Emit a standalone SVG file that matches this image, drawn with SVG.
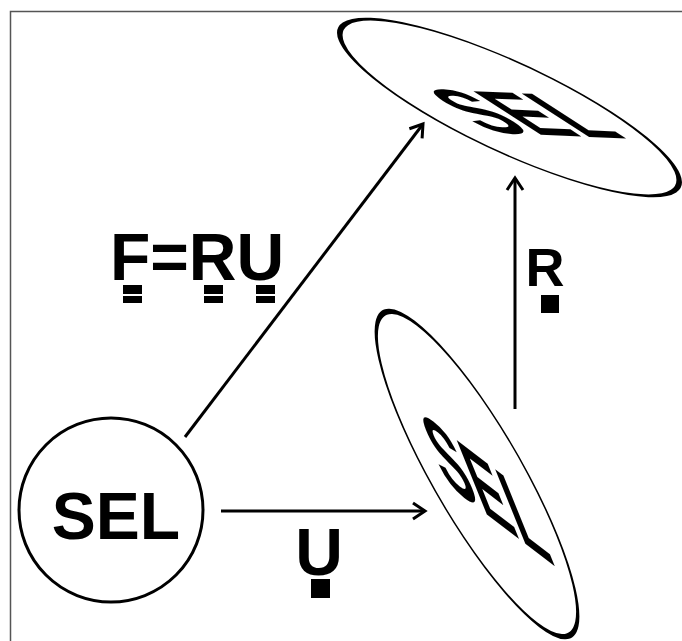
<svg xmlns="http://www.w3.org/2000/svg" width="682" height="641" viewBox="0 0 682 641">
<style>
.frame{fill:none;stroke:#555;stroke-width:1.5}
.node circle{fill:#fff;stroke:#000;stroke-width:3}
.node text,.lbl{font-family:"Liberation Sans",Arial,sans-serif;font-weight:bold;fill:#000}
.node text{font-size:66px;text-anchor:middle}
.edge{fill:none;stroke:#000;stroke-width:3}
.box{fill:#000}
</style>
<defs>
<marker id="ah" markerUnits="userSpaceOnUse" markerWidth="30" markerHeight="30" refX="0" refY="0" orient="auto" overflow="visible">
<path d="M-12,-8 L0,0 L-12,8" fill="none" stroke="#000" stroke-width="3"/>
</marker>
</defs>
<rect class="frame" x="10.5" y="11.5" width="700" height="700"/>
<g id="connectors">
<line class="edge" x1="221" y1="511" x2="425" y2="511" marker-end="url(#ah)"/>
<line class="edge" x1="515" y1="409" x2="515" y2="178" marker-end="url(#ah)"/>
<line class="edge" x1="185" y1="437" x2="423" y2="124" marker-end="url(#ah)"/>
</g>
<g id="node-circle" class="node" transform="translate(111 510)">
<circle cx="0" cy="0" r="92"/>
<text x="5" y="29">SEL</text>
</g>
<g id="node-U" class="node" transform="matrix(0.8695 0.6654 0.6654 1.6378 477 474)">
<circle cx="0" cy="0" r="92"/>
<text x="5" y="29">SEL</text>
</g>
<g id="node-F" class="node" transform="matrix(1.094 0.046 1.485 0.959 509.5 107.5)">
<circle cx="0" cy="0" r="92"/>
<text x="5" y="29">SEL</text>
</g>
<g id="label-F">
<text class="lbl" x="110" y="280" font-size="66">F=RU</text>
<rect class="box" x="123" y="285" width="19" height="9"/>
<rect class="box" x="123" y="296" width="19" height="7"/>
<rect class="box" x="204" y="285" width="19" height="9"/>
<rect class="box" x="204" y="296" width="19" height="7"/>
<rect class="box" x="256" y="285" width="19" height="9"/>
<rect class="box" x="256" y="296" width="19" height="7"/>
</g>
<g id="label-R">
<text class="lbl" x="545" y="286" font-size="54" text-anchor="middle">R</text>
<rect class="box" x="541" y="295" width="18" height="18"/>
</g>
<g id="label-U">
<text class="lbl" x="319" y="575" font-size="66" text-anchor="middle">U</text>
<rect class="box" x="311" y="579" width="19" height="19"/>
</g>
</svg>
